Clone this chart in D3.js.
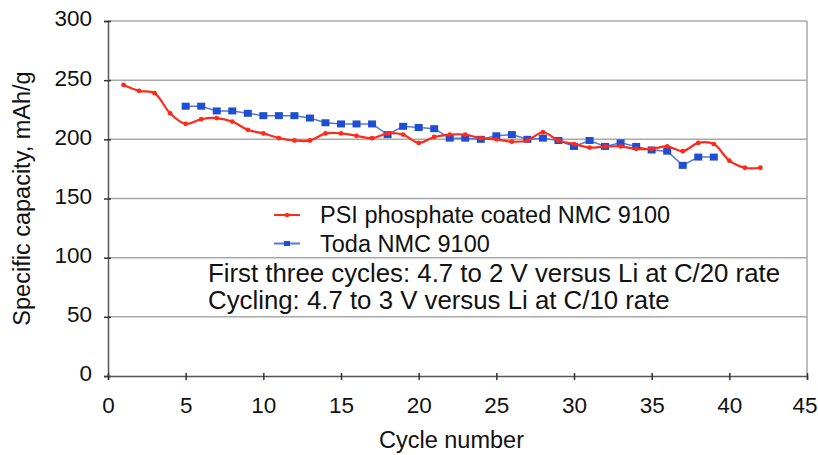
<!DOCTYPE html>
<html><head><meta charset="utf-8">
<script src="https://cdn.jsdelivr.net/npm/d3@7"></script>
<style>body{margin:0;background:#fff}svg{display:block}text{font-family:"Liberation Sans",Arial,sans-serif;fill:#111}</style>
</head><body>
<svg id="c" width="818" height="455"></svg>
<script>
const psiCycles = [1,2,3,4,5,6,7,8,9,10,11,12,13,14,15,16,17,18,19,20,21,22,23,24,25,26,27,28,29,30,31,32,33,34,35,36,37,38,39,40,41,42];
const psiValues = [246,241,239,222,213,217,218,215,208,205,201,199,199,205,205,203,201,205,204,197,202,204,204,201,200,198,199,206,199,196,193,194,194,192,192,194,190,197,196,182,176,176];
const todaCycles = [5,6,7,8,9,10,11,12,13,14,15,16,17,18,19,20,21,22,23,24,25,26,27,28,29,30,31,32,33,34,35,36,37,38,39];
const todaValues = [228,228,224,224,222,220,220,220,218,214,213,213,213,204,211,210,209,201,201,200,203,204,200,201,199,194,199,194,197,194,191,190,178,185,185];
const xTicks = [0,5,10,15,20,25,30,35,40,45];
const yTicks = [0,50,100,150,200,250,300];
const legendLabels = ["PSI phosphate coated NMC 9100","Toda NMC 9100"];
const noteLines = ["First three cycles: 4.7 to 2 V versus Li at C/20 rate","Cycling: 4.7 to 3 V versus Li at C/10 rate"];

const svg = d3.select("#c");
const L=108,R=807,T=21,B=376;
const x = d3.scaleLinear().domain([0,45]).range([L,R]);
const y = d3.scaleLinear().domain([0,300]).range([B,T]);
const red="#ff2a1a", blue="#1f4fd0", blueLine="#5577dd";
const FONT="Liberation Sans, Arial, sans-serif";

// gridlines
svg.append("g").selectAll("line").data(yTicks.filter(d=>d>0)).join("line")
  .attr("x1",L).attr("x2",R).attr("y1",d=>y(d)).attr("y2",d=>y(d))
  .attr("stroke","#a8a8a8").attr("stroke-width",1.5);
svg.append("line").attr("x1",R).attr("x2",R).attr("y1",T).attr("y2",B).attr("stroke","#a8a8a8").attr("stroke-width",1.5);

const yAxis = svg.append("g").attr("transform",`translate(${L},0)`)
  .call(d3.axisLeft(y).tickValues(yTicks).tickSize(4).tickPadding(12));
const xAxis = svg.append("g").attr("transform",`translate(0,${B})`)
  .call(d3.axisBottom(x).tickValues(xTicks).tickSize(4).tickPadding(17));
[yAxis,xAxis].forEach(a=>{
  a.select(".domain").attr("stroke","#555").attr("stroke-width",1.5);
  a.selectAll(".tick line").attr("stroke","#333").attr("stroke-width",1.5);
  a.selectAll(".tick text").attr("font-size",22.5).attr("font-family",FONT).attr("fill","#111");
});
yAxis.selectAll(".tick text").attr("dy","0.22em");
yAxis.selectAll(".tick line").attr("x1",3).attr("x2",-4);
xAxis.selectAll(".tick line").attr("y1",-3).attr("y2",4);
xAxis.selectAll(".tick text").filter(d=>d===45).attr("dx",-2.5);

// Toda series
const todaData = todaCycles.map((c,i)=>({c,v:todaValues[i]}));
svg.append("path").datum(todaData)
  .attr("d",d3.line().x(d=>x(d.c)).y(d=>y(d.v)))
  .attr("fill","none").attr("stroke",blueLine).attr("stroke-width",1.5);
svg.append("g").selectAll("rect").data(todaData).join("rect")
  .attr("x",d=>x(d.c)-4).attr("y",d=>y(d.v)-3.5).attr("width",8).attr("height",7)
  .attr("fill",blue);

// PSI series
const psiData = psiCycles.map((c,i)=>({c,v:psiValues[i]}));
svg.append("path").datum(psiData)
  .attr("d",d3.line().x(d=>x(d.c)).y(d=>y(d.v)).curve(d3.curveCatmullRom.alpha(0.5)))
  .attr("fill","none").attr("stroke",red).attr("stroke-width",2.2);
svg.append("g").selectAll("circle").data(psiData).join("circle")
  .attr("cx",d=>x(d.c)).attr("cy",d=>y(d.v)).attr("r",2.4).attr("fill",red);

// legend
const lg = svg.append("g");
legendLabels.forEach((t,i)=>{
  const yy = 215 + i*28.5;
  lg.append("line").attr("x1",274).attr("x2",300).attr("y1",yy).attr("y2",yy)
    .attr("stroke",i===0?red:blueLine).attr("stroke-width",2);
  if(i===0) lg.append("circle").attr("cx",287).attr("cy",yy).attr("r",2.3).attr("fill",red);
  else lg.append("rect").attr("x",284).attr("y",yy-2.5).attr("width",6).attr("height",5).attr("fill",blue);
  lg.append("text").attr("x",320).attr("y",yy+8).attr("font-size",23.5).text(t);
});
noteLines.forEach((t,i)=>{
  svg.append("text").attr("x",208).attr("y",282+i*26.5).attr("font-size",25.8).text(t);
});

// axis titles
svg.append("text").attr("transform",`translate(30,${(T+B)/2}) rotate(-90)`)
  .attr("text-anchor","middle").attr("font-size",23.5).text("Specific capacity, mAh/g");
svg.append("text").attr("x",(L+R)/2-6).attr("y",448).attr("text-anchor","middle")
  .attr("font-size",23.5).text("Cycle number");
</script>
</body></html>
